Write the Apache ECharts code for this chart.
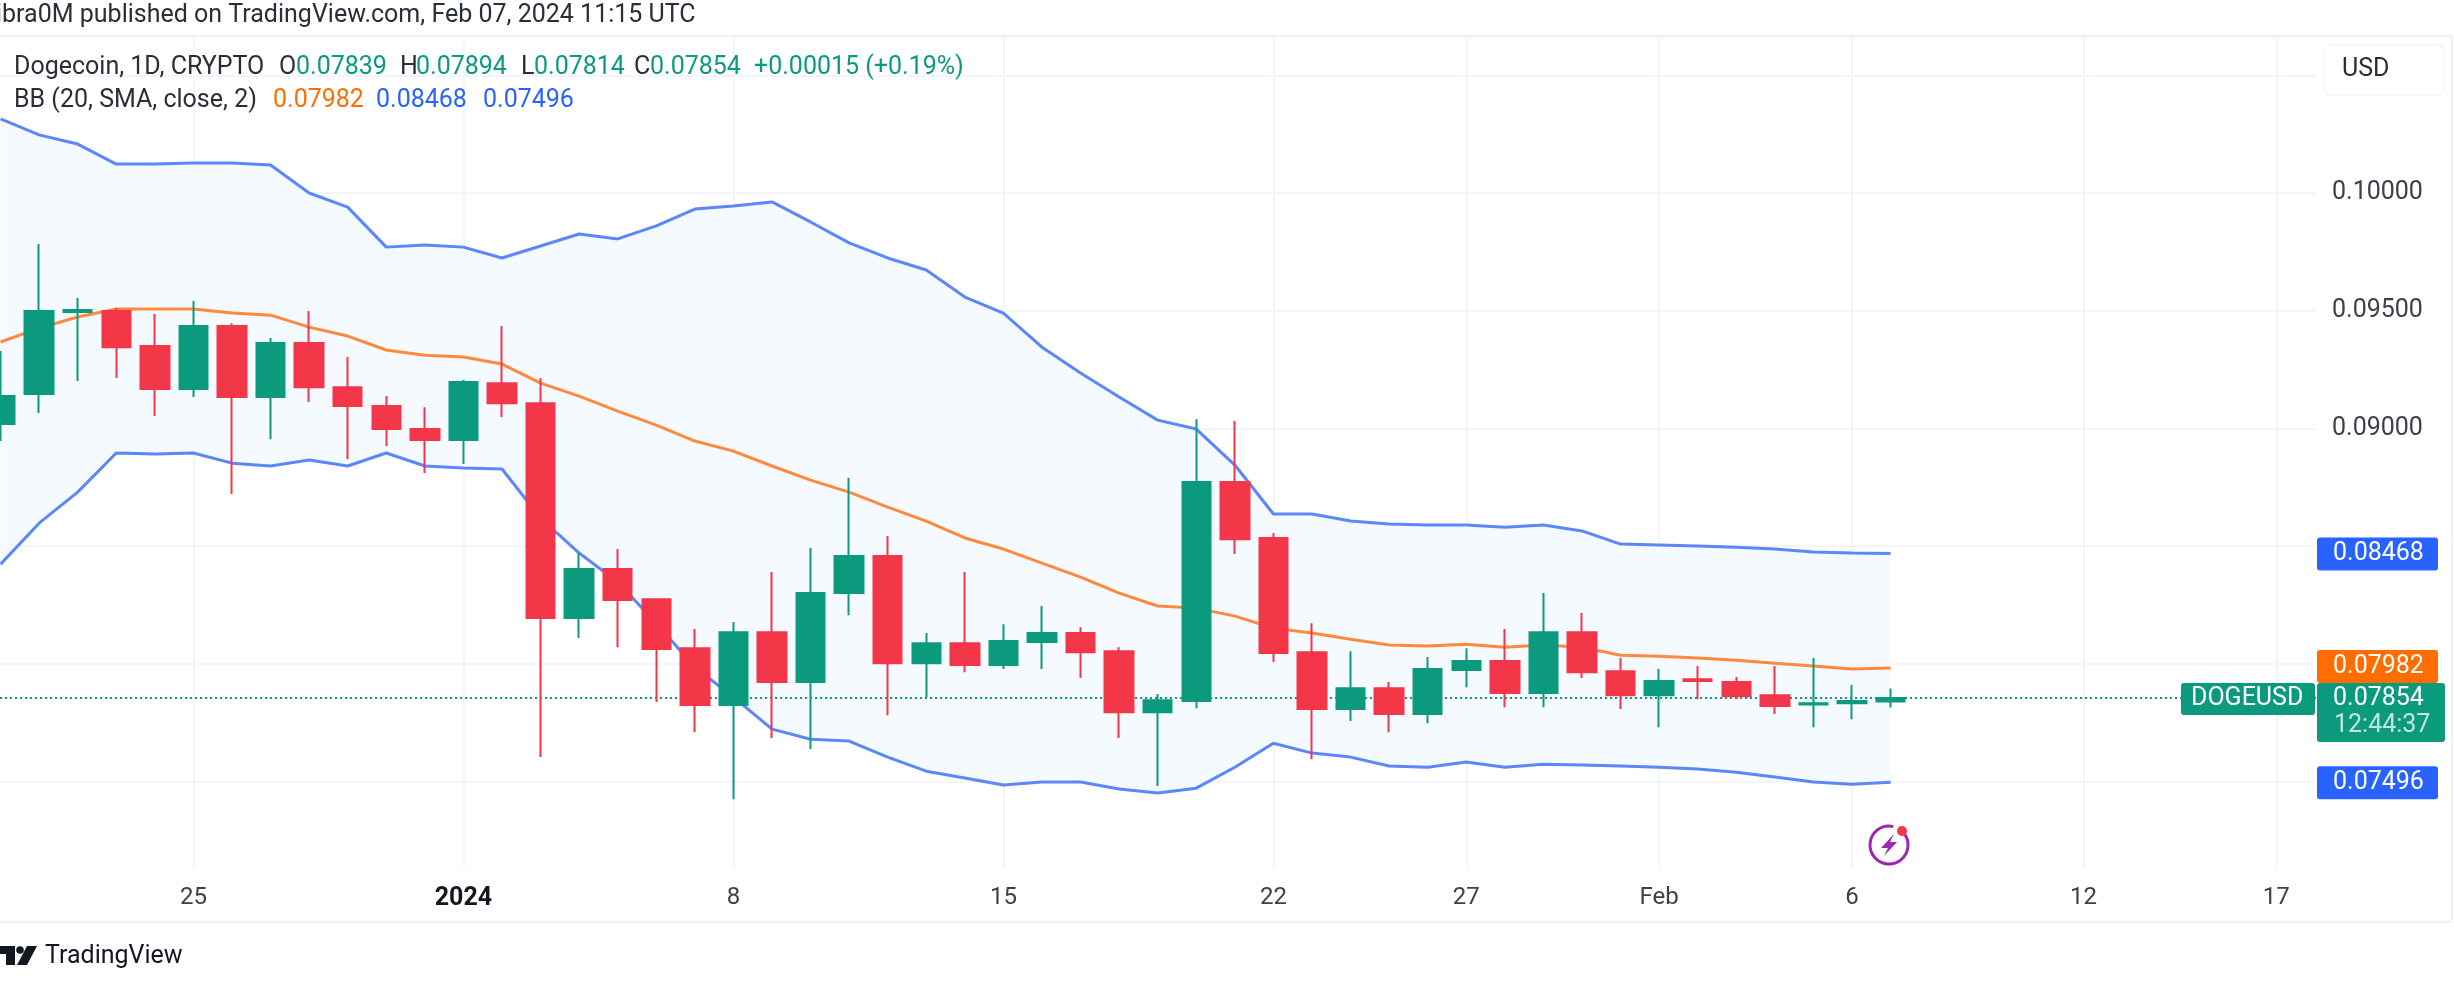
<!DOCTYPE html>
<html>
<head>
<meta charset="utf-8">
<title>Dogecoin 1D</title>
<script src="https://cdn.jsdelivr.net/npm/echarts@6/dist/echarts.min.js"></script>
<style>
  html, body { margin: 0; padding: 0; background: #fff; }
  #chart { width: 2454px; height: 998px; }
</style>
</head>
<body>
<div id="chart"></div>
<script>
// one entry a day, 20 Dec 2023 to 7 Feb 2024
const days = [
  'Dec 20','Dec 21','Dec 22','Dec 23','Dec 24','Dec 25','Dec 26','Dec 27','Dec 28','Dec 29','Dec 30','Dec 31',
  'Jan 1','Jan 2','Jan 3','Jan 4','Jan 5','Jan 6','Jan 7','Jan 8','Jan 9','Jan 10','Jan 11','Jan 12','Jan 13','Jan 14','Jan 15',
  'Jan 16','Jan 17','Jan 18','Jan 19','Jan 20','Jan 21','Jan 22','Jan 23','Jan 24','Jan 25','Jan 26','Jan 27','Jan 28','Jan 29','Jan 30','Jan 31',
  'Feb 1','Feb 2','Feb 3','Feb 4','Feb 5','Feb 6','Feb 7'
]
const opens = [
  .09018,.09146,.09494,.09499,.09350,.09167,.09435,.09133,.09363,.09175,.09095,.08997,
  .08950,.09192,.09107,.08194,.08402,.08274,.08066,.07824,.08134,.07922,.08300,.08457,.08002,.08087,.07994,
  .08092,.08130,.08053,.07794,.07841,.08772,.08534,.08049,.07807,.07896,.07786,.07973,.08011,.07875,.08134,.07968,
  .07866,.07934,.07922,.07866,.07826,.07832,.07839
]
const closes = [
  .09137,.09499,.09503,.09345,.09167,.09435,.09133,.09363,.09175,.09095,.08997,.08950,
  .09197,.09107,.08194,.08402,.08270,.08062,.07824,.08134,.07922,.08300,.08457,.08002,.08087,.07994,.08096,
  .08130,.08049,.07794,.07845,.08772,.08529,.08045,.07807,.07896,.07786,.07977,.08011,.07875,.08134,.07964,.07866,
  .07926,.07926,.07862,.07820,.07832,.07841,.07854
]
const lows = [
  .08946,.09065,.09201,.09214,.09052,.09133,.08721,.08954,.09112,.08869,.08925,.08810,
  .08848,.09048,.07603,.08109,.08070,.07837,.07709,.07424,.07684,.07637,.08206,.07781,.07858,.07964,.07977,
  .07977,.07939,.07684,.07480,.07811,.08466,.08007,.07594,.07756,.07709,.07747,.07900,.07815,.07815,.07939,.07807,
  .07730,.07849,.07849,.07786,.07730,.07764,.07814
]
const highs = [
  .09329,.09783,.09554,.09511,.09486,.09541,.09447,.09384,.09499,.09303,.09137,.09090,
  .09205,.09435,.09214,.08470,.08487,.08274,.08147,.08177,.08389,.08491,.08789,.08542,.08130,.08389,.08168,
  .08245,.08155,.08070,.07871,.09039,.09031,.08555,.08172,.08053,.07922,.08028,.08066,.08147,.08300,.08215,.08024,
  .07977,.07990,.07943,.07990,.08024,.07909,.07894
]
const bbUpper = [
  .10315,.10247,.10208,.10123,.10123,.10128,.10128,.10119,.10000,.09940,.09770,.09779,
  .09770,.09724,.09775,.09826,.09805,.09860,.09932,.09945,.09962,.09877,.09788,.09724,.09673,.09558,.09490,
  .09345,.09235,.09133,.09035,.08997,.08844,.08636,.08636,.08606,.08593,.08589,.08589,.08580,.08589,.08564,.08508,
  .08504,.08500,.08495,.08487,.08474,.08470,.08468
]
const bbMiddle = [
  .09367,.09426,.09473,.09507,.09507,.09507,.09490,.09481,.09430,.09392,.09333,.09311,
  .09303,.09273,.09192,.09137,.09073,.09014,.08946,.08903,.08840,.08780,.08729,.08665,.08606,.08534,.08487,
  .08427,.08368,.08300,.08245,.08236,.08202,.08151,.08130,.08104,.08079,.08075,.08083,.08070,.08079,.08070,.08036,
  .08032,.08024,.08015,.08002,.07990,.07977,.07982
]
const bbLower = [
  .08423,.08597,.08729,.08895,.08891,.08895,.08852,.08840,.08865,.08840,.08895,.08840,
  .08831,.08827,.08619,.08470,.08347,.08172,.07985,.07858,.07722,.07679,.07671,.07603,.07543,.07514,.07484,
  .07497,.07497,.07467,.07450,.07471,.07560,.07662,.07620,.07603,.07565,.07560,.07582,.07560,.07573,.07569,.07565,
  .07560,.07552,.07539,.07518,.07497,.07488,.07496
]
const priceTicks = [0.075, 0.08, 0.085, 0.09, 0.095, 0.1, 0.105]
const priceLabels = [0.09, 0.095, 0.1]
// x position is the index into days, the last two run past the data
const dayTicks = [5, 12, 19, 26, 33, 38, 43, 48, 54, 59]
const dayTickLabels = ['25', '2024', '8', '15', '22', '27', 'Feb', '6', '12', '17']

const lastClose = closes[closes.length - 1]
const font = 'Roboto'
const green = '#0c9a7e'
const red = '#f33648'
const blue = '#5b87fa'
const orange = '#ff8a3d'
const gridColor = '#f4f5f8'
const frameColor = '#f0f2f8'

const candles = days.map((d, i) => [i, opens[i], closes[i], lows[i], highs[i]])
const line = (arr) => arr.map((v, i) => [i, v])

const chart = echarts.init(document.getElementById('chart'))

chart.setOption({
  backgroundColor: '#fff',
  animation: false,
  textStyle: { fontFamily: font },
  grid: { left: 0, top: 37, width: 2316, height: 831 },
  xAxis: {
    type: 'value',
    min: -0.0143,
    max: 60.03,
    axisLine: { show: false },
    axisTick: { show: false, customValues: dayTicks },
    splitLine: { show: true, lineStyle: { color: gridColor, width: 2 } },
    axisLabel: {
      customValues: dayTicks,
      margin: 18,
      fontSize: 24,
      color: '#3c404b',
      fontFamily: font,
      formatter: (v) => {
        const s = dayTickLabels[dayTicks.indexOf(v)]
        return s === '2024' ? '{b|2024}' : s
      },
      rich: { b: { fontSize: 25, fontWeight: 'bold', color: '#131722', fontFamily: font } }
    }
  },
  yAxis: {
    type: 'value',
    position: 'right',
    min: 0.071317,
    max: 0.106629,
    axisLine: { show: false },
    axisTick: { show: false, customValues: priceTicks },
    splitLine: { show: true, lineStyle: { color: gridColor, width: 2 } },
    axisLabel: {
      customValues: priceLabels,
      margin: 16,
      fontSize: 25,
      color: '#3c404b',
      fontFamily: font,
      formatter: (v) => v.toFixed(5)
    }
  },
  series: [
    {
      name: 'band',
      type: 'custom',
      data: [[0, bbLower[0]]],
      silent: true,
      z: 1,
      renderItem: (params, api) => {
        const top = bbUpper.map((v, i) => api.coord([i, v]))
        const bottom = bbLower.map((v, i) => api.coord([i, v])).reverse()
        return { type: 'polygon', shape: { points: top.concat(bottom) }, style: { fill: '#f4faff' } }
      }
    },
    {
      name: 'last price',
      type: 'line',
      data: [[-0.0143, lastClose], [60.03, lastClose]],
      showSymbol: false,
      silent: true,
      lineStyle: { color: green, width: 2, type: [2, 3] },
      z: 2
    },
    { name: 'BB upper', type: 'line', data: line(bbUpper), showSymbol: false, lineStyle: { color: blue, width: 3 }, z: 3 },
    { name: 'BB lower', type: 'line', data: line(bbLower), showSymbol: false, lineStyle: { color: blue, width: 3 }, z: 3 },
    { name: 'BB basis', type: 'line', data: line(bbMiddle), showSymbol: false, lineStyle: { color: orange, width: 3 }, z: 3 },
    {
      name: 'DOGEUSD',
      type: 'candlestick',
      data: candles,
      encode: { x: 0, y: [1, 2, 3, 4] },
      barWidth: 29,
      itemStyle: { color: green, color0: red, borderColor: green, borderColor0: red, borderWidth: 2 },
      z: 5
    }
  ]
})

// text piece: left edge x, middle y
function txt(x, y, s, color, size, extra) {
  return {
    type: 'text', x: x, y: y, z: 20,
    style: Object.assign({
      text: s, fill: color, fontFamily: font, fontSize: size || 25, textVerticalAlign: 'middle', textAlign: 'left'
    }, extra || {})
  }
}
function box(x, y, w, h, color, r, stroke) {
  return {
    type: 'rect', z: 15,
    shape: { x: x, y: y, width: w, height: h, r: r || 3 },
    style: { fill: color, stroke: stroke || null }
  }
}
const priceY = (v) => chart.convertToPixel({ yAxisIndex: 0 }, v)

const dark = '#2a2e39'
const upY = priceY(bbUpper[bbUpper.length - 1])
const midY = priceY(bbMiddle[bbMiddle.length - 1])
const lowY = priceY(bbLower[bbLower.length - 1])
const lastY = priceY(lastClose)
const fixed = (v) => v.toFixed(5)

chart.setOption({
  graphic: [
    // frame
    { type: 'line', z: 10, shape: { x1: 0, y1: 36, x2: 2452, y2: 36 }, style: { stroke: frameColor, lineWidth: 3 } },
    { type: 'line', z: 10, shape: { x1: 2452, y1: 36, x2: 2452, y2: 922 }, style: { stroke: frameColor, lineWidth: 2 } },
    { type: 'line', z: 10, shape: { x1: 0, y1: 922, x2: 2452, y2: 922 }, style: { stroke: frameColor, lineWidth: 2 } },

    // header
    txt(-4, 16, 'ibra0M published on TradingView.com, Feb 07, 2024 11:15 UTC', dark, 25),

    // legend rows
    txt(14, 68, 'Dogecoin, 1D, CRYPTO', dark),
    txt(279, 68, 'O', dark), txt(296, 68, fixed(opens[49]), green),
    txt(400, 68, 'H', dark), txt(416, 68, fixed(highs[49]), green),
    txt(521, 68, 'L', dark), txt(534, 68, fixed(lows[49]), green),
    txt(634, 68, 'C', dark), txt(650, 68, fixed(closes[49]), green),
    txt(754, 68, '+0.00015 (+0.19%)', green),
    txt(14, 101, 'BB (20, SMA, close, 2)', dark),
    txt(273, 101, fixed(bbMiddle[49]), '#ff6d00'),
    txt(376, 101, fixed(bbUpper[49]), '#2962ff'),
    txt(483, 101, fixed(bbLower[49]), '#2962ff'),

    // currency button
    box(2323.5, 45, 121, 50, '#fff', 8, '#eff1f5'),
    txt(2342, 70, 'USD', dark, 25),

    // price tags
    box(2317, upY - 16, 121, 33, '#2962ff'),
    txt(2333, upY, fixed(bbUpper[49]), '#fff', 25),
    box(2317, midY - 18, 121, 33, '#ff6d00'),
    txt(2333, midY - 1, fixed(bbMiddle[49]), '#fff', 25),
    box(2181, lastY - 15, 134, 32, green),
    txt(2191, lastY + 1, 'DOGEUSD', '#fff', 25),
    box(2317, lastY - 15, 128, 59, green),
    txt(2333, lastY + 1, fixed(closes[49]), '#fff', 25),
    txt(2334, lastY + 28, '12:44:37', 'rgba(255,255,255,0.75)', 25),
    box(2317, lowY - 16, 121, 33, '#2962ff'),
    txt(2333, lowY, fixed(bbLower[49]), '#fff', 25),

    // news icon under the last candle
    { type: 'arc', z: 12, shape: { cx: 1889, cy: 845, r: 19, startAngle: -0.7, endAngle: -1.35, clockwise: true }, style: { stroke: '#9c27b0', fill: null, lineWidth: 3 } },
    { type: 'polygon', z: 12, shape: { points: [[1894, 834], [1881, 848], [1888, 848], [1884, 856], [1897, 842], [1890, 842]] }, style: { fill: '#9c27b0' } },
    { type: 'circle', z: 13, shape: { cx: 1902, cy: 831, r: 5 }, style: { fill: '#f23645' } },

    // TradingView logo
    { type: 'polygon', z: 12, shape: { points: [[0, 946], [15, 946], [15, 965], [6, 965], [6, 954], [0, 954]] }, style: { fill: '#131722' } },
    { type: 'circle', z: 12, shape: { cx: 20, cy: 950, r: 3.8 }, style: { fill: '#131722' } },
    { type: 'polygon', z: 12, shape: { points: [[27, 946], [37, 946], [27, 965], [17, 965]] }, style: { fill: '#131722' } },
    txt(45, 957, 'TradingView', '#131722', 25)
  ]
})
</script>
</body>
</html>
